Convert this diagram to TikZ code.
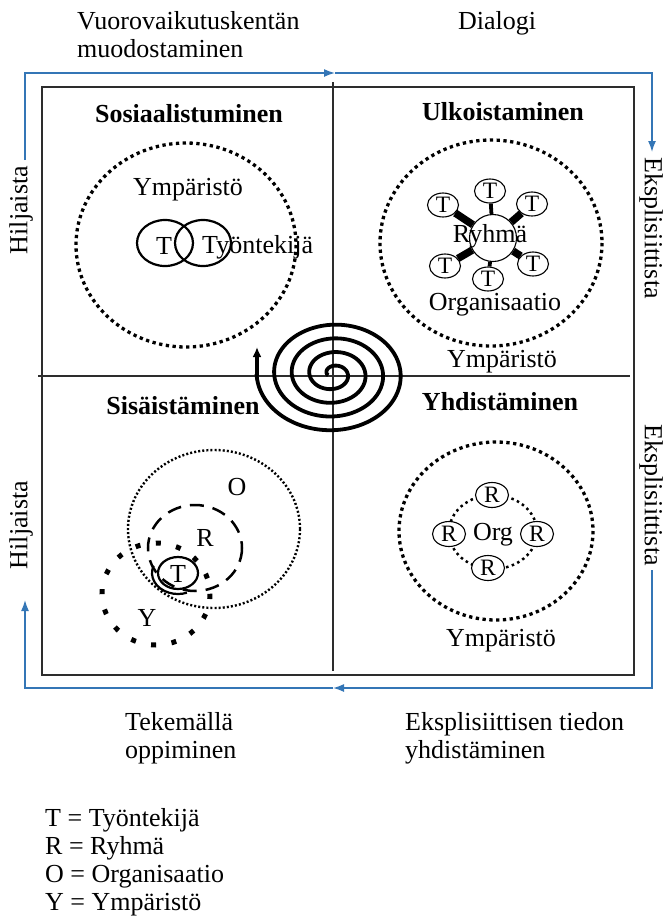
\documentclass[tikz,border=0pt]{standalone}
\usepackage{fontspec}
\setmainfont{Liberation Serif}
\usetikzlibrary{arrows.meta,shapes.geometric}

\definecolor{flowblue}{RGB}{52,118,182}
\definecolor{framegray}{RGB}{45,45,45}
\newcommand\lblfont{\fontsize{26}{31}\selectfont}
\newcommand\tagfont{\fontsize{23.5}{28}\selectfont}

\begin{document}
\begin{tikzpicture}[x=1pt,y=-1pt,
  every node/.style={inner sep=0pt,font=\lblfont},
  flow/.style={draw=flowblue,line width=1.5pt},
  flowtip/.style={-{Latex[length=11pt,width=8pt]}},
  frameline/.style={draw=framegray,line width=1.3pt},
  heavydots/.style={line width=3.3pt,dash pattern=on 3.3pt off 3.5pt},
  finedots/.style={line width=2.4pt,dash pattern=on 2pt off 2.1pt},
  chaindots/.style={line width=2.5pt,dash pattern=on 2.5pt off 3.5pt},
  sparsedots/.style={line width=5pt,dash pattern=on 5pt off 15.6pt},
  longdash/.style={line width=2.5pt,dash pattern=on 14pt off 9pt},
  member/.style={draw,ellipse,fill=white,line width=1.1pt,minimum width=31pt,minimum height=24pt,font=\tagfont},
  grp/.style={member,minimum width=33pt,minimum height=25pt},
  heading/.style={font=\lblfont\bfseries},
]
\useasboundingbox (0,0) rectangle (665,919);

% ---- outer texts ----
\node[anchor=base west] (vuoro) at (77,29) {Vuorovaikutuskentän};
\node[anchor=base west] (muodo) at (77,57) {muodostaminen};
\node[anchor=base] (dialogi) at (497,29) {Dialogi};
\node[rotate=90] (hil1) at (21,210) {Hiljaista};
\node[rotate=90] (hil2) at (21,525) {Hiljaista};
\node[rotate=-90] (eks1) at (651,228) {Eksplisiittista};
\node[rotate=-90] (eks2) at (651,495) {Eksplisiittista};
\node[anchor=base west] (teke) at (125,730) {Tekemällä};
\node[anchor=base west] (oppi) at (125,758) {oppiminen};
\node[anchor=base west] (ekst) at (405,730) {Eksplisiittisen tiedon};
\node[anchor=base west] (yhdt) at (405,758) {yhdistäminen};

% ---- blue cycle around the quadrants ----
\coordinate (fTLa) at (25,160);
\coordinate (fTL) at (25,73);
\coordinate (fTM) at (335,73);
\coordinate (fTR) at (652,73);
\coordinate (fTRa) at (652,152);
\coordinate (fBRa) at (652,570);
\coordinate (fBR) at (652,688);
\coordinate (fBM) at (333,688);
\coordinate (fBL) at (25,688);
\coordinate (fBLa) at (25,600);
\draw[flow,flowtip] (fTLa) -- (fTL) -- (fTM);
\draw[flow,flowtip] (fTM) -- (fTR) -- (fTRa);
\draw[flow,flowtip] (fBRa) -- (fBR) -- (fBM);
\draw[flow,flowtip] (fBM) -- (fBL) -- (fBLa);

% ---- frame and axes ----
\draw[frameline] (42,87) rectangle (634,675);
\draw[frameline] (333,82) -- (333,671);
\draw[frameline] (38,376) -- (630,376);

% ---- spiral ----
\draw[line width=3.8pt,line join=round]
  plot[domain=160:1620,samples=600]
  ({333+(6+0.0489*(\x-180))*cos(\x)},{374+0.78*(6+0.0489*(\x-180))*sin(\x)});
\coordinate (spend) at (257,376);
\coordinate (sptip) at (257,347);
\draw[line width=3.2pt,-{Latex[length=10pt,width=9pt]}] (spend) -- (sptip);

% ---- Sosiaalistuminen ----
\node[heading] (hsos) at (189,114) {Sosiaalistuminen};
\draw[heavydots] (186,245) ellipse [x radius=110,y radius=102];
\node (ymp1) at (188,190) {Ympäristö};
\draw[line width=2.2pt] (165,243) ellipse [x radius=28,y radius=23];
\draw[line width=2.2pt] (203,243) ellipse [x radius=28,y radius=23];
\node (tsos) at (164,246) {T};
\node[anchor=west] (tyo) at (202,247) {Työntekijä};

% ---- Ulkoistaminen ----
\node[heading] (hulk) at (503,112) {Ulkoistaminen};
\draw[heavydots] (491,243) ellipse [x radius=111,y radius=103];
\node[draw,circle,fill=white,line width=1.1pt,minimum size=47pt] (ryh) at (493,238) {};
\node[member] (u1) at (490,191) {T};
\node[member] (u2) at (443,205) {T};
\node[member] (u3) at (532,204) {T};
\node[member] (u4) at (445,266) {T};
\node[member] (u5) at (488,279) {T};
\node[member] (u6) at (533,264) {T};
\draw[line width=3.8pt] (ryh) -- (u1);
\draw[line width=3.8pt] (ryh) -- (u5);
\draw[line width=7.5pt] (ryh) -- (u2);
\draw[line width=7.5pt] (ryh) -- (u3);
\draw[line width=7.5pt] (ryh) -- (u4);
\draw[line width=7.5pt] (ryh) -- (u6);
\node (ryhtxt) at (490,236) {Ryhmä};
\node (org1) at (495,305) {Organisaatio};
\node (ymp2) at (502,362) {Ympäristö};

% ---- Sisäistäminen ----
\node[heading] (hsis) at (183,406) {Sisäistäminen};
\draw[finedots] (214,529) ellipse [x radius=86,y radius=79];
\draw[longdash] (195,548) ellipse [x radius=47,y radius=43];
\draw[sparsedots] (156,594) ellipse [x radius=54,y radius=51];
\draw[line width=2.2pt] (178,573) ellipse [x radius=20,y radius=16];
\draw[line width=2.2pt] (178,573) ++(200:26 and 21) arc[start angle=200,end angle=70,x radius=26,y radius=21];
\node (lo) at (237,487) {O};
\node (lr) at (205,538) {R};
\node (lt) at (178,574) {T};
\node (ly) at (147,618) {Y};

% ---- Yhdistäminen ----
\node[heading] (hyhd) at (500,402) {Yhdistäminen};
\draw[heavydots] (496,531) ellipse [x radius=97,y radius=89];
\draw[chaindots] (493,532) ellipse [x radius=44,y radius=37];
\node[grp] (r1) at (492,495) {R};
\node[grp] (r2) at (449,534) {R};
\node[grp] (r3) at (537,534) {R};
\node[grp] (r4) at (488,568) {R};
\node (orgs) at (493,535) {Org};
\node (ymp3) at (501,641) {Ympäristö};

% ---- legend ----
\node[anchor=base west] (leg1) at (45,826) {T = Työntekijä};
\node[anchor=base west] (leg2) at (45,854) {R = Ryhmä};
\node[anchor=base west] (leg3) at (45,882) {O = Organisaatio};
\node[anchor=base west] (leg4) at (45,910) {Y = Ympäristö};
\end{tikzpicture}
\end{document}
